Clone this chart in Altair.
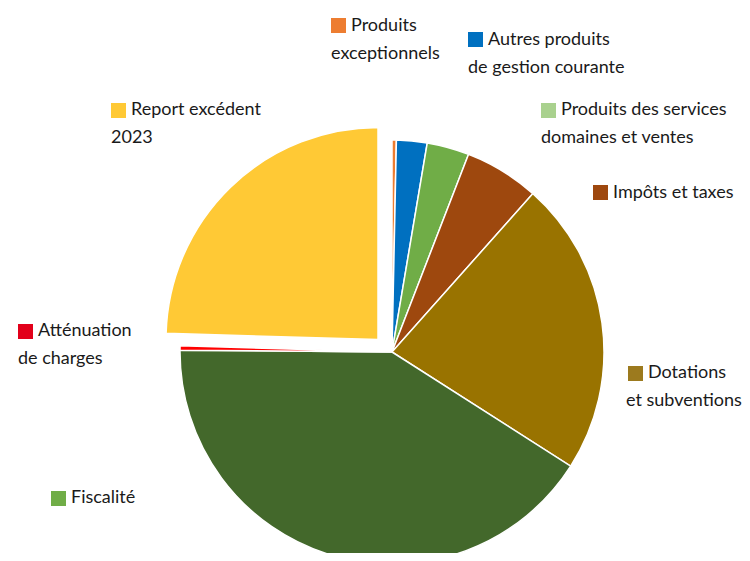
import altair as alt
import pandas as pd

# ---- data ----
categories = [
    "Produits exceptionnels",
    "Autres produits de gestion courante",
    "Produits des services domaines et ventes",
    "Impôts et taxes",
    "Dotations et subventions",
    "Fiscalité",
    "Atténuation de charges",
    "Report excédent 2023",
]
values = [0.33, 2.33, 3.22, 5.69, 22.47, 41.08, 0.33, 24.53]
slice_colors = ["#ED7D31", "#0070C0", "#70AD47", "#9E480E", "#997300", "#43682B", "#FF0000", "#FFC935"]
legend_colors = ["#ED7D31", "#0070C0", "#A9D18E", "#9E480E", "#9C7A1E", "#70AD47", "#E2001A", "#FFC935"]
legend_lines = [
    ["Produits", "exceptionnels"],
    ["Autres produits", "de gestion courante"],
    ["Produits des services", "domaines et ventes"],
    ["Impôts et taxes"],
    ["Dotations", "et subventions"],
    ["Fiscalité"],
    ["Atténuation", "de charges"],
    ["Report excédent", "2023"],
]
exploded = "Report excédent 2023"

# ---- layout (pixels in plot coordinates) ----
center = (384, 344)
exploded_center = (370, 331.5)
radius = 212
# (square left, square top, line1 y-center, line2 left) per legend entry
legend_pos = [
    (323, 10, 18, 323),
    (460, 24, 32, 460),
    (533, 95, 102, 533),
    (585, 177, 185, 585),
    (620, 358, 365, 618),
    (43, 483, 490, 43),
    (10, 316, 323, 10),
    (103, 95, 102, 103),
]
sq = 15
line_gap = 28
font = "Lato, Roboto, sans-serif"
font_size = 18

total = sum(values)
df = pd.DataFrame({"cat": categories, "value": values, "order": list(range(len(values)))})

base = alt.Chart(df).transform_window(
    cum="sum(value)", sort=[alt.SortField("order")]
).transform_calculate(start="datum.cum - datum.value")

theta_scale = alt.Scale(domain=[0, total], range=[0, 6.283185307179586])
color = alt.Color("cat:N", scale=alt.Scale(domain=categories, range=slice_colors), legend=None)

main = base.transform_filter(alt.datum.cat != exploded).mark_arc(
    radius=radius, stroke="white", strokeWidth=1.5
).encode(
    theta=alt.Theta("start:Q", stack=None, scale=theta_scale),
    theta2="cum:Q",
    color=color,
    x=alt.value(center[0]),
    y=alt.value(center[1]),
)

expl = base.transform_filter(alt.datum.cat == exploded).mark_arc(
    radius=radius, stroke="white", strokeWidth=1.5
).encode(
    theta=alt.Theta("start:Q", stack=None, scale=theta_scale),
    theta2="cum:Q",
    color=color,
    x=alt.value(exploded_center[0]),
    y=alt.value(exploded_center[1]),
)

layers = [main, expl]
one = alt.Data(values=[{"a": 1}])
for lines, col, (sx, sy, ly, l2x) in zip(legend_lines, legend_colors, legend_pos):
    layers.append(
        alt.Chart(one).mark_rect(color=col).encode(
            x=alt.value(sx), x2=alt.value(sx + sq), y=alt.value(sy), y2=alt.value(sy + sq)
        )
    )
    layers.append(
        alt.Chart(one).mark_text(
            text=lines[0], align="left", baseline="middle", font=font, fontSize=font_size, color="#1a1a1a"
        ).encode(x=alt.value(sx + sq + 5), y=alt.value(ly))
    )
    if len(lines) > 1:
        layers.append(
            alt.Chart(one).mark_text(
                text=lines[1], align="left", baseline="middle", font=font, fontSize=font_size, color="#1a1a1a"
            ).encode(x=alt.value(l2x), y=alt.value(ly + line_gap))
        )

chart = alt.layer(*layers).properties(
    width=734, height=545, padding=0, autosize="none"
).configure_view(stroke=None)

chart.save("out.html", embed_options={"renderer": "svg", "actions": False})
